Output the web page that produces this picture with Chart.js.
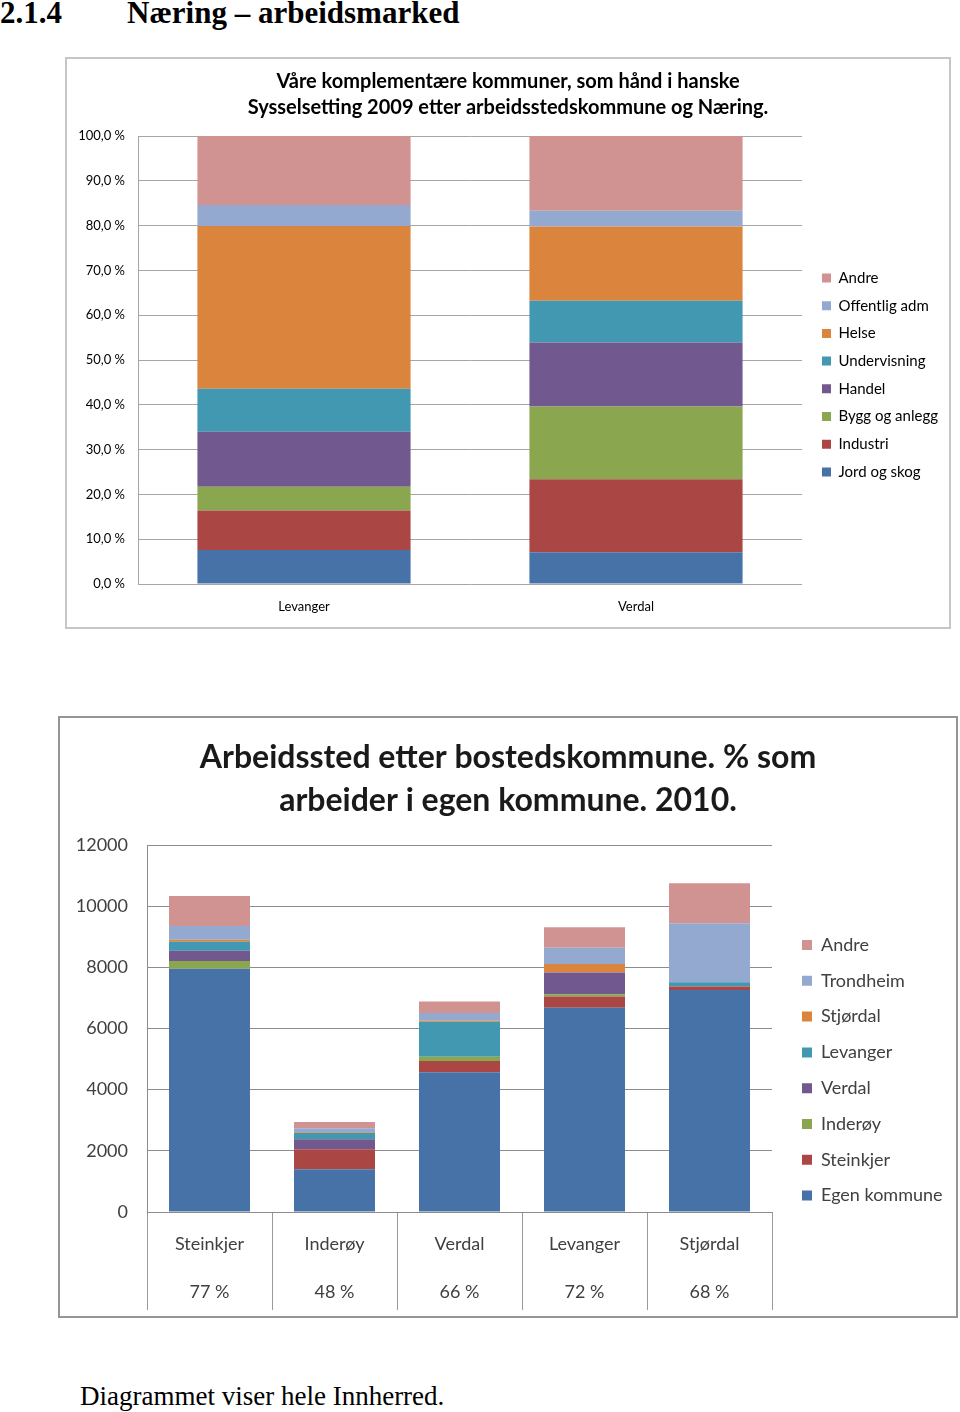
<!DOCTYPE html>
<html>
<head>
<meta charset="utf-8">
<script src="https://cdn.jsdelivr.net/npm/chart.js@4"></script>
<style>
  body { margin: 0; background: #fff; width: 960px; height: 1412px; position: relative; overflow: hidden; }
  .heading { position: absolute; top: -2px; font: bold 31px "Liberation Serif", serif; line-height: 30px; color: #000; }
  .box1 { position: absolute; left: 65px; top: 57px; border: 2px solid #c6c6c6; width: 882px; height: 568px; }
  .box2 { position: absolute; left: 58px; top: 716px; border: 2px solid #959595; width: 896px; height: 598px; }
  .note { position: absolute; left: 80px; top: 1381px; font: 27px "Liberation Serif", serif; line-height: 30px; color: #000; }
</style>
</head>
<body>
<div class="heading" style="left:0">2.1.4</div>
<div class="heading" style="left:127px">Næring – arbeidsmarked</div>
<div class="box1"><canvas id="sysselsetting" width="882" height="568"></canvas></div>
<div class="box2"><canvas id="arbeidssted" width="896" height="598"></canvas></div>
<div class="note">Diagrammet viser hele Innherred.</div>
<script>
// Sysselsetting 2009 (andel i %)
const naeringKommuner = ['Levanger', 'Verdal'];
const jordOgSkog   = [7.6, 7.1];
const industri     = [8.8, 16.3];
const byggOgAnlegg = [5.3, 16.2];
const handel       = [12.3, 14.3];
const undervisning = [9.6, 9.3];
const helse        = [36.3, 16.6];
const offentligAdm = [4.7, 3.5];
const andreNaering = [15.4, 16.7];
const prosentTicks = [0, 10, 20, 30, 40, 50, 60, 70, 80, 90, 100];

// Arbeidssted etter bostedskommune 2010 (antall)
const bostedKommuner = ['Steinkjer', 'Inderøy', 'Verdal', 'Levanger', 'Stjørdal'];
const andelEgen      = ['77 %', '48 %', '66 %', '72 %', '68 %'];
const egenKommune    = [7950, 1400, 4570, 6680, 7260];
const tilSteinkjer   = [0, 650, 370, 370, 110];
const tilInderoy     = [260, 0, 140, 70, 0];
const tilVerdal      = [330, 330, 0, 710, 0];
const tilLevanger    = [300, 200, 1140, 0, 140];
const tilStjordal    = [60, 30, 40, 280, 0];
const tilTrondheim   = [450, 130, 250, 530, 1930];
const tilAndre       = [980, 200, 370, 670, 1310];
const antallTicks    = [0, 2000, 4000, 6000, 8000, 10000, 12000];

const farger = {
  blaa: '#4672a8', roed: '#aa4744', groenn: '#8aa64f', lilla: '#71598f',
  turkis: '#4298b0', oransje: '#db843d', lysblaa: '#94a9cf', rosa: '#d19392'
};

const FONT = 'Lato, "Open Sans", sans-serif';

// puts the legend at a fixed spot (its own layout box would squeeze the plot)
const legendPlacer = {
  id: 'legendPlacer',
  afterLayout(chart, args, opts) {
    const lg = chart.legend;
    if (!lg) return;
    lg.left = opts.left; lg.right = opts.left + 260;
    lg.top = opts.top; lg.bottom = opts.top + 400;
  }
};

// empty axis on the right that only reserves room for the legend
function plassHoyre(bredde) {
  return {
    position: 'right', display: true,
    grid: { display: false, drawTicks: false }, border: { display: false },
    ticks: { display: false },
    afterFit: s => { s.width = bredde; }
  };
}

function lagSerie(label, data, farge, andel) {
  return { label: label, data: data, backgroundColor: farge, borderWidth: 0,
           categoryPercentage: 1, barPercentage: andel };
}

// ---- chart 1 ----
const pad1 = 12.7;
new Chart(document.getElementById('sysselsetting'), {
  type: 'bar',
  plugins: [legendPlacer],
  data: {
    labels: naeringKommuner,
    datasets: [
      lagSerie('Jord og skog', jordOgSkog, farger.blaa, 0.642),
      lagSerie('Industri', industri, farger.roed, 0.642),
      lagSerie('Bygg og anlegg', byggOgAnlegg, farger.groenn, 0.642),
      lagSerie('Handel', handel, farger.lilla, 0.642),
      lagSerie('Undervisning', undervisning, farger.turkis, 0.642),
      lagSerie('Helse', helse, farger.oransje, 0.642),
      lagSerie('Offentlig adm', offentligAdm, farger.lysblaa, 0.642),
      lagSerie('Andre', andreNaering, farger.rosa, 0.642)
    ]
  },
  options: {
    responsive: false,
    animation: false,
    layout: { padding: 0 },
    scales: {
      x: {
        stacked: true,
        grid: { display: false, drawTicks: false },
        border: { display: false },
        ticks: { color: '#000', font: { family: FONT, size: 13 }, padding: 15 },
        afterFit: s => { s.height = 43; }
      },
      y: {
        stacked: true,
        min: 0, max: 100,
        afterBuildTicks: s => { s.ticks = prosentTicks.map(v => ({ value: v })); },
        grid: { color: '#a6a6a6', drawTicks: false },
        border: { display: true, color: '#a6a6a6' },
        ticks: {
          color: '#000', font: { family: FONT, size: 13 }, padding: 13,
          callback: v => v.toFixed(1).replace('.', ',') + ' %'
        },
        afterFit: s => { s.width = 71; }
      },
      plass: plassHoyre(147)
    },
    plugins: {
      title: {
        display: true,
        text: ['Våre komplementære kommuner, som hånd i hanske',
               'Sysselsetting 2009 etter arbeidsstedskommune og Næring.'],
        color: '#000',
        font: { family: FONT, size: 20, weight: 'bold', lineHeight: 26 / 20 },
        padding: { top: 10, bottom: 15 }
      },
      legend: {
        position: 'chartArea',
        align: 'start',
        reverse: true,
        labels: { boxWidth: 9, boxHeight: 9, padding: pad1, color: '#000',
                  font: { family: FONT, size: 15 } }
      },
      legendPlacer: { left: 755 - pad1, top: 219 - pad1 - 7.5 },
      tooltip: { enabled: false }
    }
  }
});

// ---- chart 2 ----
const pad2 = 17.8;
new Chart(document.getElementById('arbeidssted'), {
  type: 'bar',
  plugins: [legendPlacer],
  data: {
    labels: bostedKommuner.map((k, i) => [k, '', andelEgen[i]]),
    datasets: [
      lagSerie('Egen kommune', egenKommune, farger.blaa, 0.648),
      lagSerie('Steinkjer', tilSteinkjer, farger.roed, 0.648),
      lagSerie('Inderøy', tilInderoy, farger.groenn, 0.648),
      lagSerie('Verdal', tilVerdal, farger.lilla, 0.648),
      lagSerie('Levanger', tilLevanger, farger.turkis, 0.648),
      lagSerie('Stjørdal', tilStjordal, farger.oransje, 0.648),
      lagSerie('Trondheim', tilTrondheim, farger.lysblaa, 0.648),
      lagSerie('Andre', tilAndre, farger.rosa, 0.648)
    ]
  },
  options: {
    responsive: false,
    animation: false,
    layout: { padding: 0 },
    scales: {
      x: {
        stacked: true,
        grid: { display: true, offset: true, drawOnChartArea: false, drawTicks: true,
                tickLength: 98, color: '#9a9a9a' },
        border: { display: true, color: '#8c8c8c' },
        ticks: { color: '#404040', font: { family: FONT, size: 18, lineHeight: 24 / 18 }, padding: -78 },
        afterFit: s => { s.height = 104; }
      },
      y: {
        stacked: true,
        min: 0, max: 12000,
        afterBuildTicks: s => { s.ticks = antallTicks.map(v => ({ value: v })); },
        grid: { color: '#8c8c8c', drawTicks: false },
        border: { display: true, color: '#8c8c8c' },
        ticks: { color: '#404040', font: { family: FONT, size: 18 }, padding: 19,
                 callback: v => String(v) },
        afterFit: s => { s.width = 87; }
      },
      plass: plassHoyre(184)
    },
    plugins: {
      title: {
        display: true,
        text: ['Arbeidssted etter bostedskommune. % som',
               'arbeider i egen kommune. 2010.'],
        color: '#1a1a1a',
        font: { family: FONT, size: 32, weight: 'bold', lineHeight: 43 / 32 },
        padding: { top: 18.5, bottom: 22.5 }
      },
      legend: {
        position: 'chartArea',
        align: 'start',
        reverse: true,
        labels: { boxWidth: 10, boxHeight: 10, padding: pad2, color: '#404040',
                  font: { family: FONT, size: 18 } }
      },
      legendPlacer: { left: 742 - pad2, top: 227 - pad2 - 9 },
      tooltip: { enabled: false }
    }
  }
});
</script>
</body>
</html>
